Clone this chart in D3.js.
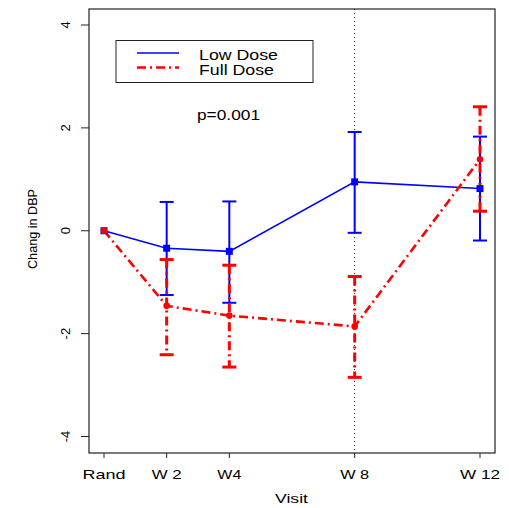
<!DOCTYPE html>
<html><head><meta charset="utf-8">
<script src="https://cdn.jsdelivr.net/npm/d3@7"></script>
<style>body{margin:0;background:#fff}svg{display:block}text{font-family:"Liberation Sans",Arial,sans-serif}</style>
</head><body><svg id="c" width="509" height="508"></svg>
<script>
const visits = ["Rand","W 2","W4","W 8","W 12"];
const weeks = [0,2,4,8,12];
const lowMean = [0,-0.34,-0.40,0.95,0.82];
const lowUpper = [0,0.56,0.57,1.92,1.83];
const lowLower = [0,-1.25,-1.40,-0.04,-0.19];
const fullMean = [0,-1.46,-1.65,-1.86,1.39];
const fullUpper = [0,-0.56,-0.67,-0.89,2.41];
const fullLower = [0,-2.41,-2.65,-2.85,0.38];
const yTicks = [-4,-2,0,2,4];
const legendLabels = ["Low Dose","Full Dose"];
const pText = "p=0.001";

const svg = d3.select("#c");
const L=89,R=495,T=9,B=453;
const x = d3.scaleLinear().domain([0,12]).range([104,480]);
const y = d3.scaleLinear().domain([-4,4]).range([436.5,25]);

// box
svg.append("rect").attr("x",L).attr("y",T).attr("width",R-L).attr("height",B-T)
  .attr("fill","none").attr("stroke","#222").attr("stroke-width",1.2);

// y axis ticks
const gy = svg.append("g");
yTicks.forEach(v=>{
  gy.append("line").attr("x1",L-8).attr("x2",L).attr("y1",y(v)).attr("y2",y(v)).attr("stroke","#222");
  gy.append("text").attr("transform",`translate(${L-19},${y(v)}) rotate(-90)`)
    .attr("text-anchor","middle").attr("font-size",13).attr("fill","#000").text(v);
});
// x axis ticks
const xLabelW = [43,30,24,29,40];
weeks.forEach((w,i)=>{
  svg.append("line").attr("x1",x(w)).attr("x2",x(w)).attr("y1",B).attr("y2",B+5).attr("stroke","#222");
  svg.append("text").attr("x",x(w)).attr("y",479).attr("text-anchor","middle").attr("font-size",13)
    .attr("textLength",xLabelW[i]).attr("lengthAdjust","spacingAndGlyphs").text(visits[i]);
});
svg.append("text").attr("x",291.5).attr("y",503).attr("text-anchor","middle").attr("font-size",13)
  .attr("textLength",33).attr("lengthAdjust","spacingAndGlyphs").text("Visit");
svg.append("text").attr("transform",`translate(37,229) rotate(-90)`).attr("text-anchor","middle")
  .attr("font-size",13).attr("textLength",80).attr("lengthAdjust","spacingAndGlyphs").text("Chang in DBP");

// dotted vertical at W8
svg.append("line").attr("x1",x(8)).attr("x2",x(8)).attr("y1",T).attr("y2",B)
  .attr("stroke","#222").attr("stroke-width",1).attr("stroke-dasharray","1,3");

const line = d3.line().x((d,i)=>x(weeks[i])).y(d=>y(d));
const dash = "9,4,2,4";

function errBars(mean, up, lo, color, sw, da, cap){
  weeks.forEach((w,i)=>{
    if(i===0) return;
    svg.append("line").attr("x1",x(w)).attr("x2",x(w)).attr("y1",y(up[i])).attr("y2",y(lo[i]))
      .attr("stroke",color).attr("stroke-width",sw).attr("stroke-dasharray",da);
    [up[i],lo[i]].forEach(v=>svg.append("line").attr("x1",x(w)-7).attr("x2",x(w)+7)
      .attr("y1",y(v)).attr("y2",y(v)).attr("stroke",color).attr("stroke-width",cap));
  });
}
errBars(lowMean,lowUpper,lowLower,"#0000ff",2,null,2);
errBars(fullMean,fullUpper,fullLower,"#ff0000",3,dash,3);

svg.append("path").attr("d",line(lowMean)).attr("fill","none").attr("stroke","#0000ff").attr("stroke-width",1.6);
svg.append("path").attr("d",line(fullMean)).attr("fill","none").attr("stroke","#ff0000").attr("stroke-width",2.6).attr("stroke-dasharray",dash);

lowMean.forEach((v,i)=>svg.append("rect").attr("x",x(weeks[i])-3.5).attr("y",y(v)-3.5)
  .attr("width",7).attr("height",7).attr("fill","#0000ff"));
fullMean.forEach((v,i)=>svg.append("circle").attr("cx",x(weeks[i])).attr("cy",y(v)).attr("r",3.3).attr("fill","#ff0000"));

// legend
svg.append("rect").attr("x",116).attr("y",40.5).attr("width",197).attr("height",42)
  .attr("fill","#fff").attr("stroke","#222").attr("stroke-width",1);
svg.append("line").attr("x1",137).attr("x2",179).attr("y1",53).attr("y2",53).attr("stroke","#0000ff").attr("stroke-width",1.6);
svg.append("line").attr("x1",137).attr("x2",179).attr("y1",67.5).attr("y2",67.5).attr("stroke","#ff0000").attr("stroke-width",2.6).attr("stroke-dasharray",dash);
svg.append("text").attr("x",199).attr("y",60).attr("font-size",14).attr("textLength",79).attr("lengthAdjust","spacingAndGlyphs").text(legendLabels[0]);
svg.append("text").attr("x",199).attr("y",74.5).attr("font-size",14).attr("textLength",75).attr("lengthAdjust","spacingAndGlyphs").text(legendLabels[1]);
svg.append("text").attr("x",197).attr("y",120).attr("font-size",14).attr("textLength",63).attr("lengthAdjust","spacingAndGlyphs").text(pText);
</script></body></html>
